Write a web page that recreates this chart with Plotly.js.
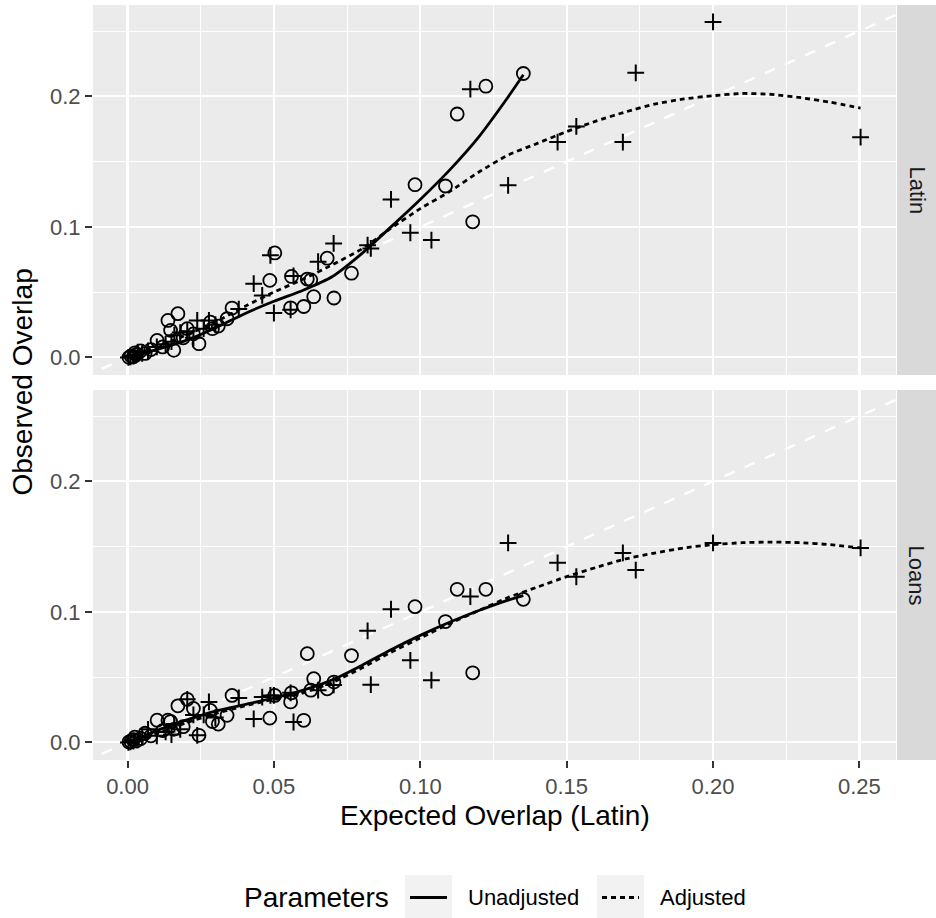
<!DOCTYPE html>
<html>
<head>
<meta charset="utf-8">
<script src="https://cdn.plot.ly/plotly-3.0.1.min.js"></script>
<style>html,body{margin:0;padding:0;background:#fff;}#chart{width:936px;height:918px;}</style>
</head>
<body>
<div id="chart"></div>
<script>
// ---------- data ----------
const panels = ["Latin", "Loans"];

// Unadjusted points (open circles)
const unadjPtX = [0.1352, 0.1224, 0.1126, 0.1179, 0.1086, 0.0982, 0.0765, 0.0682, 0.0705, 0.0636, 0.0614, 0.0626, 0.0602, 0.0560, 0.0557, 0.0503, 0.0486, 0.0357, 0.0340, 0.0310, 0.0283, 0.0244, 0.0225, 0.0204, 0.0172, 0.0138, 0.0158, 0.0147, 0.0101, 0.0120, 0.0080, 0.0060, 0.0045, 0.0030, 0.0020, 0.0012, 0.0005, 0.0025, 0.0190, 0.0290];
const unadjPtLatin = [0.2175, 0.2078, 0.1865, 0.1039, 0.1313, 0.1323, 0.0645, 0.0760, 0.0455, 0.0465, 0.0600, 0.0594, 0.0390, 0.0620, 0.0380, 0.0800, 0.0590, 0.0378, 0.0296, 0.0240, 0.0270, 0.0105, 0.0180, 0.0220, 0.0335, 0.0283, 0.0054, 0.0207, 0.0130, 0.0080, 0.0060, 0.0030, 0.0050, 0.0020, 0.0005, 0.0010, 0.0000, 0.0035, 0.0150, 0.0220];
const unadjPtLoans = [0.1096, 0.1173, 0.1173, 0.0533, 0.0926, 0.1040, 0.0665, 0.0410, 0.0462, 0.0488, 0.0680, 0.0400, 0.0169, 0.0380, 0.0310, 0.0360, 0.0186, 0.0360, 0.0207, 0.0140, 0.0245, 0.0054, 0.0260, 0.0330, 0.0280, 0.0170, 0.0100, 0.0160, 0.0170, 0.0090, 0.0050, 0.0070, 0.0030, 0.0010, 0.0020, 0.0005, 0.0003, 0.0040, 0.0120, 0.0160];

// Adjusted points (crosses)
const adjPtX = [0.2504, 0.2000, 0.1736, 0.1692, 0.1533, 0.1469, 0.1300, 0.1171, 0.1038, 0.0966, 0.0900, 0.0831, 0.0820, 0.0704, 0.0651, 0.0567, 0.0488, 0.0431, 0.0460, 0.0500, 0.0557, 0.0380, 0.0278, 0.0238, 0.0204, 0.0260, 0.0225, 0.0160, 0.0130, 0.0100, 0.0070, 0.0050, 0.0035, 0.0020, 0.0010, 0.0003, 0.0150, 0.0300, 0.0180];
const adjPtLatin = [0.1687, 0.2570, 0.2180, 0.1650, 0.1770, 0.1650, 0.1318, 0.2055, 0.0899, 0.0955, 0.1210, 0.0835, 0.0860, 0.0873, 0.0733, 0.0624, 0.0782, 0.0565, 0.0475, 0.0340, 0.0365, 0.0370, 0.0283, 0.0283, 0.0200, 0.0220, 0.0150, 0.0170, 0.0100, 0.0080, 0.0050, 0.0030, 0.0040, 0.0010, 0.0005, 0.0000, 0.0120, 0.0250, 0.0190];
const adjPtLoans = [0.1490, 0.1528, 0.1320, 0.1452, 0.1269, 0.1376, 0.1528, 0.1117, 0.0477, 0.0629, 0.1020, 0.0442, 0.0855, 0.0440, 0.0400, 0.0156, 0.0360, 0.0180, 0.0347, 0.0360, 0.0380, 0.0340, 0.0310, 0.0054, 0.0330, 0.0210, 0.0210, 0.0140, 0.0080, 0.0050, 0.0100, 0.0040, 0.0020, 0.0010, 0.0005, 0.0000, 0.0060, 0.0190, 0.0100];

// Smoothed curves
const unadjFitX = [0.0005, 0.01, 0.02, 0.03, 0.04, 0.05, 0.06, 0.07, 0.08, 0.09, 0.10, 0.11, 0.12, 0.13, 0.1352];
const unadjFitLatin = [0.000, 0.006, 0.013, 0.0225, 0.0335, 0.0430, 0.0515, 0.0620, 0.0795, 0.1000, 0.121, 0.1435, 0.169, 0.1995, 0.2165];
const unadjFitLoans = [0.000, 0.009, 0.017, 0.0240, 0.0290, 0.0340, 0.0400, 0.0480, 0.0590, 0.0710, 0.082, 0.092, 0.101, 0.109, 0.1125];

const adjFitX = [0.0003, 0.01, 0.02, 0.03, 0.04, 0.05, 0.06, 0.07, 0.08, 0.09, 0.10, 0.11, 0.12, 0.13, 0.14, 0.15, 0.16, 0.17, 0.18, 0.19, 0.20, 0.21, 0.22, 0.23, 0.24, 0.2504];
const adjFitLatin = [0.001, 0.008, 0.017, 0.027, 0.039, 0.050, 0.060, 0.071, 0.083, 0.099, 0.114, 0.127, 0.142, 0.155, 0.164, 0.173, 0.181, 0.188, 0.194, 0.198, 0.2005, 0.2022, 0.2015, 0.199, 0.1955, 0.191];
const adjFitLoans = [0.000, 0.007, 0.015, 0.022, 0.028, 0.033, 0.038, 0.046, 0.057, 0.069, 0.080, 0.091, 0.101, 0.111, 0.119, 0.127, 0.134, 0.1405, 0.145, 0.149, 0.1515, 0.153, 0.1535, 0.153, 0.1515, 0.149];

// identity reference line y = x
const identityLine = [-0.05, 0.30];

const xTicks = [0, 0.05, 0.10, 0.15, 0.20, 0.25];
const xTickText = ["0.00", "0.05", "0.10", "0.15", "0.20", "0.25"];
const yTicks = [0, 0.1, 0.2];
const yTickText = ["0.0", "0.1", "0.2"];

const legendTitle = "Parameters";
const legendLabels = ["Unadjusted", "Adjusted"];

// ---------- styling ----------
const FONT = "Liberation Sans, Arial, Helvetica, sans-serif";
const LINE_W = 2.8;
const ADJ_DASH = "5px,4px";

function panelTraces(xa, ya, uPt, aPt, uFit, aFit) {
  return [
    {x: identityLine, y: identityLine, xaxis: xa, yaxis: ya, mode: "lines",
     line: {color: "#FFFFFF", width: 2.4, dash: "11px,11px"}, hoverinfo: "skip", showlegend: false},
    {x: unadjPtX, y: uPt, xaxis: xa, yaxis: ya, mode: "markers",
     marker: {symbol: "circle-open", size: 13, color: "#000", line: {width: 1.8, color: "#000"}}, showlegend: false},
    {x: adjPtX, y: aPt, xaxis: xa, yaxis: ya, mode: "markers",
     marker: {symbol: "cross-thin-open", size: 12, color: "#000", line: {width: 2, color: "#000"}}, showlegend: false},
    {x: unadjFitX, y: uFit, xaxis: xa, yaxis: ya, mode: "lines",
     line: {color: "#000", width: LINE_W, shape: "spline", smoothing: 0.6}, showlegend: false},
    {x: adjFitX, y: aFit, xaxis: xa, yaxis: ya, mode: "lines",
     line: {color: "#000", width: LINE_W, dash: ADJ_DASH, shape: "spline", smoothing: 0.6}, showlegend: false}
  ];
}

const traces = [].concat(
  panelTraces("x2", "y2", unadjPtLatin, adjPtLatin, unadjFitLatin, adjFitLatin),
  panelTraces("x", "y", unadjPtLoans, adjPtLoans, unadjFitLoans, adjFitLoans)
);

const XRANGE = [-0.0118, 0.2625];
const YRANGE = [-0.0135, 0.270];

const gridCommon = {
  showgrid: true, gridcolor: "#FFFFFF", gridwidth: 2.2,
  zeroline: false, showline: false
};

const xBase = Object.assign({}, gridCommon, {
  range: XRANGE, tickmode: "array", tickvals: xTicks, ticktext: xTickText,
  minor: {dtick: 0.025, tick0: 0, showgrid: true, gridcolor: "#FFFFFF", gridwidth: 1.1, ticks: ""}
});
const yBase = Object.assign({}, gridCommon, {
  range: YRANGE, tickmode: "array", tickvals: yTicks, ticktext: yTickText,
  ticks: "outside", ticklen: 7, tickwidth: 2, tickcolor: "#333333",
  tickfont: {family: FONT, size: 22, color: "#4D4D4D"},
  minor: {dtick: 0.05, tick0: 0, showgrid: true, gridcolor: "#FFFFFF", gridwidth: 1.1, ticks: ""}
});

// pixel -> paper helpers (plot area: x 93..896, y 5..760)
const PL = 93, PW = 803, PB = 760, PH = 755;
const px = v => (v - PL) / PW;
const py = v => (PB - v) / PH;

const legendY = py(897.5);

const layout = {
  width: 936, height: 918,
  margin: {l: PL, r: 936 - PL - PW, t: 5, b: 918 - PB},
  paper_bgcolor: "#FFFFFF", plot_bgcolor: "#EBEBEB",
  font: {family: FONT, color: "#000"},
  showlegend: false,
  xaxis: Object.assign({}, xBase, {
    domain: [0, 1], anchor: "y",
    ticks: "outside", ticklen: 7, tickwidth: 2, tickcolor: "#333333",
    tickfont: {family: FONT, size: 22, color: "#4D4D4D"}
  }),
  xaxis2: Object.assign({}, xBase, {
    domain: [0, 1], anchor: "y2", matches: "x", showticklabels: false, ticks: ""
  }),
  yaxis: Object.assign({}, yBase, {domain: [0, py(390)], anchor: "x"}),
  yaxis2: Object.assign({}, yBase, {domain: [py(375), 1], anchor: "x2"}),
  shapes: [
    // facet strips
    {type: "rect", xref: "paper", yref: "y2 domain", x0: px(897), x1: px(940), y0: 0, y1: 1,
     fillcolor: "#D9D9D9", line: {width: 0}, layer: "below"},
    {type: "rect", xref: "paper", yref: "y domain", x0: px(897), x1: px(940), y0: 0, y1: 1,
     fillcolor: "#D9D9D9", line: {width: 0}, layer: "below"},
    // legend key backgrounds
    {type: "rect", xref: "paper", yref: "paper", x0: px(405), x1: px(452), y0: py(922), y1: py(875),
     fillcolor: "#F2F2F2", line: {width: 0}},
    {type: "rect", xref: "paper", yref: "paper", x0: px(597), x1: px(644), y0: py(922), y1: py(875),
     fillcolor: "#F2F2F2", line: {width: 0}},
    // legend key lines
    {type: "line", xref: "paper", yref: "paper", x0: px(410), x1: px(447), y0: legendY, y1: legendY,
     line: {color: "#000", width: LINE_W}},
    {type: "line", xref: "paper", yref: "paper", x0: px(602), x1: px(639), y0: legendY, y1: legendY,
     line: {color: "#000", width: LINE_W, dash: ADJ_DASH}}
  ],
  annotations: [
    {text: panels[0], xref: "paper", yref: "y2 domain", x: px(916.5), y: 0.5, showarrow: false,
     textangle: 90, font: {family: FONT, size: 22, color: "#1A1A1A"}, xanchor: "center", yanchor: "middle"},
    {text: panels[1], xref: "paper", yref: "y domain", x: px(916.5), y: 0.5, showarrow: false,
     textangle: 90, font: {family: FONT, size: 22, color: "#1A1A1A"}, xanchor: "center", yanchor: "middle"},
    {text: "Expected Overlap (Latin)", xref: "paper", yref: "paper", x: 0.5, y: py(815), showarrow: false,
     font: {family: FONT, size: 28, color: "#000"}, xanchor: "center", yanchor: "middle"},
    {text: "Observed Overlap", xref: "paper", yref: "paper", x: px(22), y: py(382.5), showarrow: false,
     textangle: -90, font: {family: FONT, size: 28, color: "#000"}, xanchor: "center", yanchor: "middle"},
    {text: legendTitle, xref: "paper", yref: "paper", x: px(242), y: legendY, showarrow: false,
     font: {family: FONT, size: 28, color: "#000"}, xanchor: "left", yanchor: "middle"},
    {text: legendLabels[0], xref: "paper", yref: "paper", x: px(466), y: legendY, showarrow: false,
     font: {family: FONT, size: 22, color: "#000"}, xanchor: "left", yanchor: "middle"},
    {text: legendLabels[1], xref: "paper", yref: "paper", x: px(658), y: legendY, showarrow: false,
     font: {family: FONT, size: 22, color: "#000"}, xanchor: "left", yanchor: "middle"}
  ]
};

Plotly.newPlot("chart", traces, layout, {displayModeBar: false, staticPlot: true});
</script>
</body>
</html>
